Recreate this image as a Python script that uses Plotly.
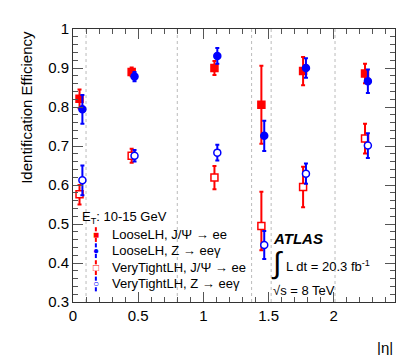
import plotly.graph_objects as go

# eta bin centres and efficiencies
eta = [0.05, 0.45, 1.085, 1.445, 1.765, 2.24]
eta_shift = 0.022

loose_jpsi = [0.821, 0.890, 0.900, 0.806, 0.892, 0.886]
loose_jpsi_err = [0.024, 0.011, 0.018, 0.100, 0.036, 0.025]

loose_z = [0.794, 0.878, 0.931, 0.726, 0.900, 0.866]
loose_z_err = [0.037, 0.012, 0.020, 0.039, 0.025, 0.030]

vt_jpsi = [0.576, 0.675, 0.619, 0.495, 0.595, 0.719]
vt_jpsi_up = [0.024, 0.018, 0.030, 0.088, 0.052, 0.038]
vt_jpsi_dn = [0.026, 0.018, 0.030, 0.062, 0.052, 0.038]

vt_z = [0.612, 0.675, 0.683, 0.446, 0.629, 0.701]
vt_z_err = [0.038, 0.015, 0.020, 0.036, 0.026, 0.032]

bin_edges = [0.1, 0.8, 1.37, 1.52, 2.01]

labels = ["LooseLH, J/Ψ → ee", "LooseLH, Z → eeγ",
          "VeryTightLH, J/Ψ → ee", "VeryTightLH, Z → eeγ"]

RED = "#ff0000"
BLUE = "#0000ff"
FONT = "Liberation Sans, Arial, sans-serif"

eta_z = [e + eta_shift for e in eta]

fig = go.Figure()

def add(x, y, err, color, symbol, fill, name, err_minus=None):
    ed = dict(type="data", array=err, color=color, thickness=2, width=2)
    if err_minus is not None:
        ed["symmetric"] = False
        ed["arrayminus"] = err_minus
    fig.add_trace(go.Scatter(
        x=x, y=y, mode="markers", name=name, error_y=ed, showlegend=False,
        marker=dict(symbol=symbol, size=7, color=fill,
                    line=dict(color=color, width=1.5)),
    ))

add(eta, loose_jpsi, loose_jpsi_err, RED, "square", RED, labels[0])
add(eta_z, loose_z, loose_z_err, BLUE, "circle", BLUE, labels[1])
add(eta, vt_jpsi, vt_jpsi_up, RED, "square", "white", labels[2], vt_jpsi_dn)
add(eta_z, vt_z, vt_z_err, BLUE, "circle", "white", labels[3])

for e in bin_edges:
    fig.add_shape(type="line", x0=e, x1=e, y0=0, y1=1, xref="x", yref="paper",
                  line=dict(color="#bbbbbb", width=1, dash="dot"), layer="below")

axis_common = dict(
    showline=True, linecolor="#333333", linewidth=1, mirror="allticks",
    ticks="inside", tickcolor="#555555", showgrid=False, zeroline=False,
    tickfont=dict(size=15, color="black", family=FONT),
)

fig.update_xaxes(range=[0, 2.47], tickvals=[0, 0.5, 1, 1.5, 2],
                 ticktext=["0", "0.5", "1", "1.5", "2"], ticklen=10,
                 minor=dict(ticks="inside", dtick=0.1, ticklen=5,
                            tickcolor="#555555"),
                 **axis_common)
fig.update_yaxes(range=[0.3, 1.0], tickvals=[0.3, 0.4, 0.5, 0.6, 0.7, 0.8, 0.9, 1.0],
                 ticktext=["0.3", "0.4", "0.5", "0.6", "0.7", "0.8", "0.9", "1"],
                 ticklen=10,
                 minor=dict(ticks="inside", dtick=0.02, ticklen=5,
                            tickcolor="#555555"),
                 **axis_common)

def note(text, x, y, size=13, xanchor="left", **kw):
    fig.add_annotation(text=text, xref="paper", yref="paper", x=x, y=y,
                       xanchor=xanchor, yanchor="middle", showarrow=False,
                       font=dict(size=size, family=FONT, color=kw.pop("color", "black")),
                       **kw)

fig.add_annotation(text="Identification Efficiency", textangle=-90,
                   xref="paper", yref="paper", x=-0.145, y=1.0,
                   xanchor="center", yanchor="top", showarrow=False,
                   font=dict(size=15, family=FONT, color="black"))
note("|η|", 1.0, -0.166, size=15, xanchor="right")

# ATLAS label
note("<b><i>ATLAS</i></b>", 0.615, 0.231, size=15)
note("∫", 0.632, 0.143, size=30, xanchor="center")
note("L dt = 20.3 fb<sup>-1</sup>", 0.655, 0.131)
note("√s = 8 TeV", 0.615, 0.043)

# hand-made legend (ROOT style, tight spacing)
note("E<sub>T</sub>: 10-15 GeV", 0.022, 0.31)
leg_y = [0.247, 0.188, 0.126, 0.066]
leg_sym = ["■", "●", "□", "○"]
leg_col = [RED, BLUE, RED, BLUE]
for yy, sym, col, lab in zip(leg_y, leg_sym, leg_col, labels):
    for y0, y1 in [(yy + 0.012, yy + 0.027), (yy - 0.027, yy - 0.012)]:
        fig.add_shape(type="line", xref="paper", yref="paper",
                      x0=0.071, x1=0.071, y0=y0, y1=y1,
                      line=dict(color=col, width=2))
    note(sym, 0.071, yy, size=10, xanchor="center", color=col)
    note(lab, 0.115, yy)

fig.update_layout(
    width=407, height=355,
    margin=dict(l=65, r=20, t=17, b=61),
    paper_bgcolor="white", plot_bgcolor="white",
    font=dict(family=FONT, color="black"),
    showlegend=False,
)

fig.write_html("out.html")
